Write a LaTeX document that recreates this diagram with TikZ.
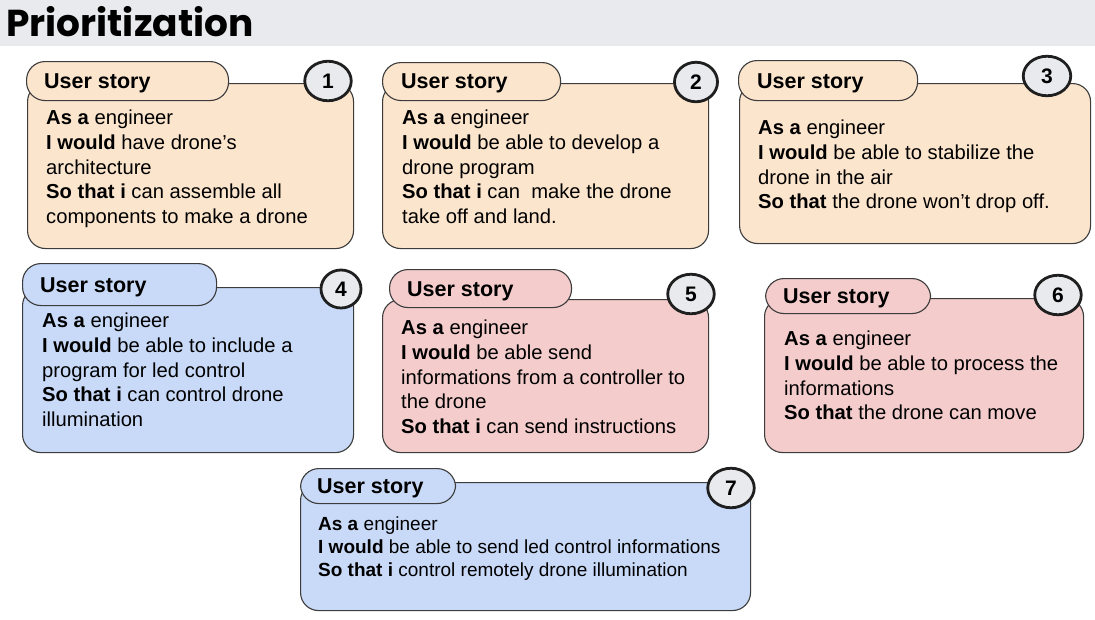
\documentclass[tikz,border=0pt]{standalone}
\usepackage{fontspec}
\usetikzlibrary{shapes.geometric}
\setmainfont{Liberation Sans}
\newfontfamily\titlefont{Poppins}
\definecolor{peach}{HTML}{FCE5CD}
\definecolor{skyblue}{HTML}{C9DAF8}
\definecolor{rose}{HTML}{F4CCCC}
\definecolor{barbg}{HTML}{E8EAED}
\definecolor{edge}{HTML}{3C3C3C}
\definecolor{ring}{HTML}{1F1F1F}
\tikzset{
  body/.style={draw=edge, line width=1.1pt, rounded corners=18pt, anchor=north west, inner sep=0pt},
  pill/.style={draw=edge, line width=1.1pt, rounded corners=18.5pt, anchor=north west, inner sep=0pt},
  hdr/.style={anchor=base west, inner sep=0pt, font=\fontsize{21.5}{24}\selectfont\bfseries},
  story/.style={anchor=north west, inner sep=0pt, align=left, font=\fontsize{20.2}{24.7}\selectfont},
  badge/.style={ellipse, draw=ring, line width=2.8pt, fill=barbg, minimum width=46.5pt, minimum height=39.5pt, inner sep=0pt, font=\fontsize{21}{24}\selectfont\bfseries},
}
\begin{document}
\begin{tikzpicture}[x=1pt,y=-1pt]
\path[use as bounding box] (0,0) rectangle (1095,619);
\fill[white] (0,0) rectangle (1095,619);
\fill[barbg] (0,0) rectangle (1095,46);
\node[anchor=base west, inner sep=0pt, font=\titlefont\fontsize{37.5}{40}\selectfont\bfseries] (title) at (6,36) {Prioritization};

% story 1
\node[body, fill=peach, minimum width=326pt, minimum height=165pt] (b1) at (27,83) {};
\node[pill, fill=peach, minimum width=202pt, minimum height=39pt] (p1) at (26,61) {};
\node[hdr] (h1) at (44,88.5) {User story};
\node[badge] (c1) at (328,81) {1};
\node[story] (t1) at (46,109.8) {\textbf{As a} engineer\\\textbf{I would} have drone’s\\architecture\\\textbf{So that i} can assemble all\\components to make a drone};

% story 2
\node[body, fill=peach, minimum width=326pt, minimum height=165pt] (b2) at (382,83) {};
\node[pill, fill=peach, minimum width=178pt, minimum height=38pt] (p2) at (382,62) {};
\node[hdr] (h2) at (401,88.5) {User story};
\node[badge, minimum width=43pt] (c2) at (696,82) {2};
\node[story] (t2) at (402,109.8) {\textbf{As a} engineer\\\textbf{I would} be able to develop a\\drone program\\\textbf{So that i} can\ \ make the drone\\take off and land.};

% story 3
\node[body, fill=peach, minimum width=351pt, minimum height=160pt] (b3) at (739,83) {};
\node[pill, fill=peach, minimum width=179pt, minimum height=40pt] (p3) at (738,60) {};
\node[hdr] (h3) at (757,88.5) {User story};
\node[badge, minimum width=47.5pt] (c3) at (1047,76) {3};
\node[story] (t3) at (758,119.8) {\textbf{As a} engineer\\\textbf{I would} be able to stabilize the\\drone in the air\\\textbf{So that} the drone won’t drop off.};

% story 4
\node[body, fill=skyblue, minimum width=331pt, minimum height=165pt] (b4) at (22,287) {};
\node[pill, fill=skyblue, minimum width=194pt, minimum height=42pt] (p4) at (22,263) {};
\node[hdr] (h4) at (40,292.5) {User story};
\node[badge, minimum width=40pt, minimum height=38pt] (c4) at (341,289) {4};
\node[story] (t4) at (42,312.8) {\textbf{As a} engineer\\\textbf{I would} be able to include a\\program for led control\\\textbf{So that i} can control drone\\illumination};

% story 5
\node[body, fill=rose, minimum width=326pt, minimum height=153pt] (b5) at (382,299) {};
\node[pill, fill=rose, minimum width=182pt, minimum height=38pt] (p5) at (389,269) {};
\node[hdr] (h5) at (407,296.5) {User story};
\node[badge] (c5) at (691,294) {5};
\node[story] (t5) at (401,319.8) {\textbf{As a} engineer\\\textbf{I would} be able send\\informations from a controller to\\the drone\\\textbf{So that i} can send instructions};

% story 6
\node[body, fill=rose, minimum width=319pt, minimum height=154pt] (b6) at (764,298) {};
\node[pill, fill=rose, minimum width=165pt, minimum height=35pt] (p6) at (765,278) {};
\node[hdr] (h6) at (783,303) {User story};
\node[badge] (c6) at (1058,295) {6};
\node[story] (t6) at (784,330.8) {\textbf{As a} engineer\\\textbf{I would} be able to process the\\informations\\\textbf{So that} the drone can move};

% story 7
\node[body, fill=skyblue, minimum width=450pt, minimum height=128pt] (b7) at (300,482) {};
\node[pill, fill=skyblue, minimum width=155pt, minimum height=35pt] (p7) at (300,468) {};
\node[hdr] (h7) at (317,493) {User story};
\node[badge] (c7) at (731,488) {7};
\node[story, font=\fontsize{19}{23}\selectfont] (t7) at (318,516.2) {\textbf{As a} engineer\\\textbf{I would} be able to send led control informations\\\textbf{So that i} control remotely drone illumination};
\end{tikzpicture}
\end{document}
